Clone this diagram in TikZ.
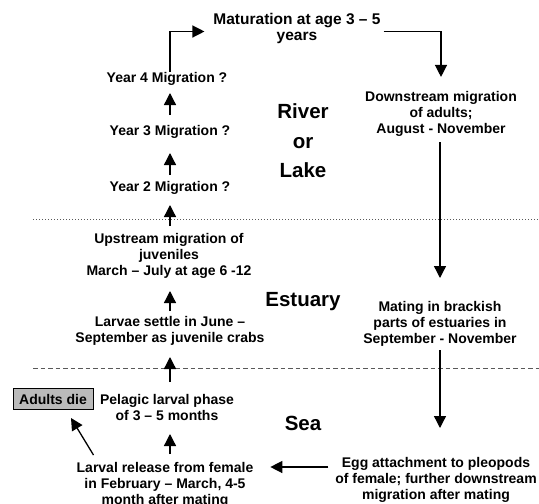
\documentclass[tikz,border=0pt]{standalone}
\usepackage{fontspec}
\setmainfont{Liberation Sans}
\usetikzlibrary{arrows.meta,calc}
\tikzset{
  lbl/.style={align=center, inner sep=0pt, outer sep=0pt, font=\fontsize{14}{16}\selectfont\bfseries},
  big/.style={align=center, inner sep=0pt, outer sep=0pt, font=\fontsize{20.5}{29.5}\selectfont\bfseries},
  arr/.style={line width=1.3pt, -{Triangle[length=12pt,width=12pt]}},
  diebox/.style={draw, line width=1pt, fill=black!27, minimum width=80pt, minimum height=21pt, inner sep=0pt, font=\fontsize{14}{16}\selectfont\bfseries},
  zone/.style={line width=0.8pt, black!65}
}
\begin{document}
\begin{tikzpicture}[x=1pt,y=-1pt]
\useasboundingbox (0,0) rectangle (539,504);
% zone separators
\coordinate (dl) at (33,219);
\coordinate (dr) at (539,219);
\coordinate (sl) at (33,368);
\coordinate (sr) at (539,368);
\draw[zone, dash pattern=on 1pt off 2pt] (dl) -- (dr);
\draw[zone, dash pattern=on 4.5pt off 3pt] (sl) -- (sr);
% nodes
\node[lbl, font=\fontsize{15.5}{16}\selectfont\bfseries] (mat) at (297,28.5) {Maturation at age 3 -- 5\\years};
\node[lbl] (y4) at (167,78.5) {Year 4 Migration ?};
\node[lbl] (y3) at (170,131.5) {Year 3 Migration ?};
\node[lbl] (y2) at (170,187.5) {Year 2 Migration ?};
\node[lbl] (up) at (169,256) {Upstream migration of\\juveniles\\March -- July at age 6 -12};
\node[lbl] (lar) at (170,331) {Larvae settle in June --\\September as juvenile crabs};
\node[lbl] (pel) at (167,408) {Pelagic larval phase\\of 3 -- 5 months};
\node[lbl] (rel) at (165,485) {Larval release from female\\in February -- March, 4-5\\month after mating};
\node[diebox] (die) at (53,399) {Adults die};
\node[lbl] (down) at (441,113.5) {Downstream migration\\of adults;\\August - November};
\node[lbl] (mate) at (440,324) {Mating in brackish\\parts of estuaries in\\September - November};
\node[lbl] (egg) at (436,480) {Egg attachment to pleopods\\of female; further downstream\\migration after mating};
\node[big] (river) at (303,141) {River\\or\\Lake};
\node[big] (est) at (303,302) {Estuary};
\node[big] (sea) at (303,423) {Sea};
% connectors
\draw[arr] ([xshift=3pt]y4.north) |- ([xshift=-9pt,yshift=-3pt]mat.west);
\draw[arr] ([xshift=3pt,yshift=-3pt]mat.east) -| ([yshift=14pt]down.north);
\draw[arr, shorten <=16.5pt, shorten >=14.5pt] (y3.center) -- (y3.center |- y4.center);
\draw[arr, shorten <=12.5pt, shorten >=21.5pt] (y2.center) -- (y3.center);
\draw[arr, shorten <=30pt, shorten >=17.5pt] (up.center -| y2.center) -- (y2.center);
\draw[arr, shorten <=20pt, shorten >=35pt] (lar.center) -- (lar.center |- up.center);
\draw[arr, shorten <=26pt, shorten >=26pt] (pel.center -| lar.center) -- (lar.center);
\draw[arr, shorten <=31pt, shorten >=26pt] (rel.center -| lar.center) -- (pel.center -| lar.center);
\draw[arr] ([xshift=0pt,yshift=-45pt]die.south east) -- ([xshift=18pt,yshift=-8pt]die.south);
\draw[arr, shorten <=28.5pt, shorten >=46pt] (down.center -| mate.center) -- (mate.center);
\draw[arr, shorten <=26pt, shorten >=52pt] (mate.center) -- (mate.center |- egg.center);
\draw[arr] ([xshift=-7pt,yshift=13pt]egg.west) -- ([yshift=13pt]egg.west -| {$(rel.east)+(17pt,0)$});
\end{tikzpicture}
\end{document}
